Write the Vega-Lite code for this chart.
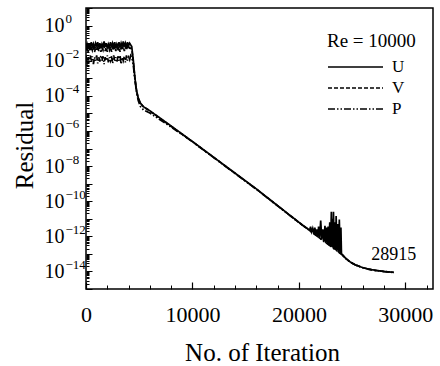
{
  "$schema": "https://vega.github.io/schema/vega-lite/v6.json",
  "width": 347,
  "height": 281,
  "autosize": {"type": "none"},
  "padding": {"left": 86, "top": 8, "right": 7, "bottom": 77},
  "background": "white",
  "config": {
    "view": {"stroke": "black", "strokeWidth": 1.5},
    "font": "Liberation Serif",
    "axis": {"labelFont": "Liberation Serif", "titleFont": "Liberation Serif", "tickColor": "black", "labelColor": "black", "titleColor": "black", "domain": false, "grid": false, "zindex": 1}
  },
  "resolve": {"axis": {"x": "independent", "y": "independent"}},
  "layer": [
    {
      "data": {
        "values": [
          {"series":"U","iter":0,"residual":0.0562},{"series":"U","iter":100,"residual":0.0891},{"series":"U","iter":200,"residual":0.0501},{"series":"U","iter":300,"residual":0.1},{"series":"U","iter":400,"residual":0.0631},{"series":"U","iter":500,"residual":0.112},{"series":"U","iter":600,"residual":0.0562},{"series":"U","iter":700,"residual":0.0891},{"series":"U","iter":800,"residual":0.0501},{"series":"U","iter":900,"residual":0.1},{"series":"U","iter":1000,"residual":0.0708},{"series":"U","iter":1100,"residual":0.112},{"series":"U","iter":1200,"residual":0.0562},{"series":"U","iter":1300,"residual":0.1},{"series":"U","iter":1400,"residual":0.0501},{"series":"U","iter":1500,"residual":0.0891},{"series":"U","iter":1600,"residual":0.0631},{"series":"U","iter":1700,"residual":0.126},{"series":"U","iter":1800,"residual":0.0631},{"series":"U","iter":1900,"residual":0.1},{"series":"U","iter":2000,"residual":0.0501},{"series":"U","iter":2100,"residual":0.0891},{"series":"U","iter":2200,"residual":0.0631},{"series":"U","iter":2300,"residual":0.112},{"series":"U","iter":2400,"residual":0.0562},{"series":"U","iter":2500,"residual":0.1},{"series":"U","iter":2600,"residual":0.0631},{"series":"U","iter":2700,"residual":0.112},{"series":"U","iter":2800,"residual":0.0501},{"series":"U","iter":2900,"residual":0.0891},{"series":"U","iter":3000,"residual":0.0631},{"series":"U","iter":3100,"residual":0.112},{"series":"U","iter":3200,"residual":0.0562},{"series":"U","iter":3300,"residual":0.1},{"series":"U","iter":3400,"residual":0.0631},{"series":"U","iter":3500,"residual":0.126},{"series":"U","iter":3600,"residual":0.0631},{"series":"U","iter":3700,"residual":0.1},{"series":"U","iter":3800,"residual":0.0562},{"series":"U","iter":3900,"residual":0.112},{"series":"U","iter":4000,"residual":0.0708},{"series":"U","iter":4100,"residual":0.1},{"series":"U","iter":4200,"residual":0.0794},{"series":"U","iter":4300,"residual":0.0631},
          {"series":"U","iter":4450,"residual":1.0e-2},{"series":"U","iter":4600,"residual":1.0e-3},{"series":"U","iter":4750,"residual":2.0e-4},{"series":"U","iter":4900,"residual":7.94e-5},{"series":"U","iter":5100,"residual":3.98e-5},{"series":"U","iter":5400,"residual":2.4e-5},{"series":"U","iter":6000,"residual":1.41e-5},{"series":"U","iter":8000,"residual":1.91e-6},{"series":"U","iter":10000,"residual":2.51e-7},{"series":"U","iter":12000,"residual":3.16e-8},{"series":"U","iter":14000,"residual":3.98e-9},{"series":"U","iter":16000,"residual":5.01e-10},{"series":"U","iter":18000,"residual":5.62e-11},{"series":"U","iter":20000,"residual":6.31e-12},{"series":"U","iter":21000,"residual":2.24e-12},
          {"series":"U","iter":21100,"residual":3.55e-12},{"series":"U","iter":21200,"residual":1.82e-12},{"series":"U","iter":21300,"residual":2.82e-12},{"series":"U","iter":21400,"residual":1.48e-12},{"series":"U","iter":21500,"residual":3.16e-12},{"series":"U","iter":21600,"residual":1.2e-12},{"series":"U","iter":21700,"residual":2.51e-12},{"series":"U","iter":21800,"residual":9.77e-13},{"series":"U","iter":21850,"residual":3.55e-12},{"series":"U","iter":21950,"residual":8.32e-13},{"series":"U","iter":22050,"residual":7.94e-12},{"series":"U","iter":22150,"residual":6.76e-13},{"series":"U","iter":22250,"residual":2.51e-12},{"series":"U","iter":22350,"residual":5.5e-13},{"series":"U","iter":22450,"residual":3.98e-12},{"series":"U","iter":22520,"residual":4.68e-13},{"series":"U","iter":22600,"residual":3.16e-12},{"series":"U","iter":22680,"residual":3.89e-13},{"series":"U","iter":22750,"residual":3.55e-12},{"series":"U","iter":22820,"residual":3.39e-13},{"series":"U","iter":22900,"residual":6.31e-12},{"series":"U","iter":22980,"residual":2.88e-13},{"series":"U","iter":23050,"residual":2.51e-11},{"series":"U","iter":23100,"residual":2.51e-13},{"series":"U","iter":23150,"residual":1.0e-11},{"series":"U","iter":23200,"residual":2.29e-13},{"series":"U","iter":23250,"residual":2.51e-11},{"series":"U","iter":23320,"residual":2.04e-13},{"series":"U","iter":23400,"residual":6.31e-12},{"series":"U","iter":23450,"residual":1.78e-13},{"series":"U","iter":23500,"residual":1.41e-11},{"series":"U","iter":23580,"residual":1.55e-13},{"series":"U","iter":23650,"residual":5.01e-12},{"series":"U","iter":23720,"residual":1.35e-13},{"series":"U","iter":23800,"residual":8.91e-12},{"series":"U","iter":23880,"residual":1.12e-13},{"series":"U","iter":23950,"residual":3.16e-12},{"series":"U","iter":24000,"residual":1.0e-13},
          {"series":"U","iter":24100,"residual":8.7e-14},{"series":"U","iter":24400,"residual":5.62e-14},{"series":"U","iter":24800,"residual":3.55e-14},{"series":"U","iter":25300,"residual":2.4e-14},{"series":"U","iter":25900,"residual":1.74e-14},{"series":"U","iter":26500,"residual":1.38e-14},{"series":"U","iter":27200,"residual":1.15e-14},{"series":"U","iter":28000,"residual":1.0e-14},{"series":"U","iter":28915,"residual":8.9e-15},

          {"series":"V","iter":0,"residual":0.0398},{"series":"V","iter":100,"residual":0.0631},{"series":"V","iter":200,"residual":0.0316},{"series":"V","iter":300,"residual":0.0562},{"series":"V","iter":400,"residual":0.0355},{"series":"V","iter":500,"residual":0.0708},{"series":"V","iter":600,"residual":0.0398},{"series":"V","iter":700,"residual":0.0631},{"series":"V","iter":800,"residual":0.0316},{"series":"V","iter":900,"residual":0.0501},{"series":"V","iter":1000,"residual":0.0398},{"series":"V","iter":1100,"residual":0.0708},{"series":"V","iter":1200,"residual":0.0355},{"series":"V","iter":1300,"residual":0.0631},{"series":"V","iter":1400,"residual":0.0316},{"series":"V","iter":1500,"residual":0.0562},{"series":"V","iter":1600,"residual":0.0398},{"series":"V","iter":1700,"residual":0.0708},{"series":"V","iter":1800,"residual":0.0355},{"series":"V","iter":1900,"residual":0.0562},{"series":"V","iter":2000,"residual":0.0316},{"series":"V","iter":2100,"residual":0.0631},{"series":"V","iter":2200,"residual":0.0398},{"series":"V","iter":2300,"residual":0.0631},{"series":"V","iter":2400,"residual":0.0316},{"series":"V","iter":2500,"residual":0.0562},{"series":"V","iter":2600,"residual":0.0398},{"series":"V","iter":2700,"residual":0.0708},{"series":"V","iter":2800,"residual":0.0355},{"series":"V","iter":2900,"residual":0.0631},{"series":"V","iter":3000,"residual":0.0355},{"series":"V","iter":3100,"residual":0.0631},{"series":"V","iter":3200,"residual":0.0316},{"series":"V","iter":3300,"residual":0.0562},{"series":"V","iter":3400,"residual":0.0398},{"series":"V","iter":3500,"residual":0.0708},{"series":"V","iter":3600,"residual":0.0355},{"series":"V","iter":3700,"residual":0.0631},{"series":"V","iter":3800,"residual":0.0398},{"series":"V","iter":3900,"residual":0.0631},{"series":"V","iter":4000,"residual":0.0447},{"series":"V","iter":4100,"residual":0.0562},{"series":"V","iter":4200,"residual":0.0501},{"series":"V","iter":4300,"residual":0.0447},
          {"series":"V","iter":4450,"residual":7.94e-3},{"series":"V","iter":4600,"residual":8.91e-4},{"series":"V","iter":4750,"residual":1.91e-4},{"series":"V","iter":4900,"residual":7.59e-5},{"series":"V","iter":5100,"residual":3.8e-5},{"series":"V","iter":5400,"residual":2.34e-5},{"series":"V","iter":6000,"residual":1.35e-5},{"series":"V","iter":8000,"residual":1.82e-6},{"series":"V","iter":10000,"residual":2.45e-7},{"series":"V","iter":12000,"residual":3.09e-8},{"series":"V","iter":14000,"residual":3.89e-9},{"series":"V","iter":16000,"residual":4.9e-10},{"series":"V","iter":18000,"residual":5.5e-11},{"series":"V","iter":20000,"residual":6.17e-12},{"series":"V","iter":21000,"residual":2.19e-12},{"series":"V","iter":22300,"residual":5.5e-13},{"series":"V","iter":22400,"residual":2.0e-12},{"series":"V","iter":22500,"residual":4.79e-13},{"series":"V","iter":23300,"residual":2.09e-13},{"series":"V","iter":23350,"residual":5.01e-12},{"series":"V","iter":23450,"residual":1.74e-13},{"series":"V","iter":24000,"residual":9.77e-14},{"series":"V","iter":24100,"residual":8.5e-14},{"series":"V","iter":24400,"residual":5.5e-14},{"series":"V","iter":24800,"residual":3.5e-14},{"series":"V","iter":25300,"residual":2.38e-14},{"series":"V","iter":25900,"residual":1.72e-14},{"series":"V","iter":26500,"residual":1.36e-14},{"series":"V","iter":27200,"residual":1.14e-14},{"series":"V","iter":28000,"residual":9.9e-15},{"series":"V","iter":28915,"residual":8.8e-15},

          {"series":"P","iter":0,"residual":0.02},{"series":"P","iter":100,"residual":0.005},{"series":"P","iter":200,"residual":0.0158},{"series":"P","iter":300,"residual":0.00794},{"series":"P","iter":400,"residual":0.02},{"series":"P","iter":500,"residual":0.01},{"series":"P","iter":600,"residual":0.0178},{"series":"P","iter":700,"residual":0.0063},{"series":"P","iter":800,"residual":0.0158},{"series":"P","iter":900,"residual":0.01},{"series":"P","iter":1000,"residual":0.02},{"series":"P","iter":1100,"residual":0.00708},{"series":"P","iter":1200,"residual":0.0158},{"series":"P","iter":1300,"residual":0.00891},{"series":"P","iter":1400,"residual":0.02},{"series":"P","iter":1500,"residual":0.01},{"series":"P","iter":1600,"residual":0.0178},{"series":"P","iter":1700,"residual":0.0063},{"series":"P","iter":1800,"residual":0.0158},{"series":"P","iter":1900,"residual":0.01},{"series":"P","iter":2000,"residual":0.02},{"series":"P","iter":2100,"residual":0.00794},{"series":"P","iter":2200,"residual":0.0158},{"series":"P","iter":2300,"residual":0.01},{"series":"P","iter":2400,"residual":0.0178},{"series":"P","iter":2500,"residual":0.00708},{"series":"P","iter":2600,"residual":0.02},{"series":"P","iter":2700,"residual":0.01},{"series":"P","iter":2800,"residual":0.0158},{"series":"P","iter":2900,"residual":0.00794},{"series":"P","iter":3000,"residual":0.0178},{"series":"P","iter":3100,"residual":0.01},{"series":"P","iter":3200,"residual":0.02},{"series":"P","iter":3300,"residual":0.0063},{"series":"P","iter":3400,"residual":0.0158},{"series":"P","iter":3500,"residual":0.01},{"series":"P","iter":3600,"residual":0.0178},{"series":"P","iter":3700,"residual":0.00794},{"series":"P","iter":3800,"residual":0.02},{"series":"P","iter":3900,"residual":0.01},{"series":"P","iter":4000,"residual":0.0158},{"series":"P","iter":4100,"residual":0.0112},{"series":"P","iter":4200,"residual":0.02},{"series":"P","iter":4300,"residual":0.0158},
          {"series":"P","iter":4450,"residual":5.0e-3},{"series":"P","iter":4600,"residual":7.9e-4},{"series":"P","iter":4750,"residual":1.58e-4},{"series":"P","iter":4900,"residual":5.62e-5},{"series":"P","iter":5100,"residual":2.51e-5},{"series":"P","iter":5400,"residual":1.58e-5},{"series":"P","iter":6000,"residual":1.05e-5},{"series":"P","iter":8000,"residual":1.66e-6},{"series":"P","iter":10000,"residual":2.4e-7},{"series":"P","iter":12000,"residual":3.02e-8},{"series":"P","iter":14000,"residual":3.8e-9},{"series":"P","iter":16000,"residual":4.79e-10},{"series":"P","iter":18000,"residual":5.37e-11},{"series":"P","iter":20000,"residual":6.03e-12},{"series":"P","iter":21000,"residual":2.14e-12},{"series":"P","iter":24000,"residual":9.55e-14},{"series":"P","iter":24100,"residual":8.4e-14},{"series":"P","iter":24400,"residual":5.4e-14},{"series":"P","iter":24800,"residual":3.45e-14},{"series":"P","iter":25300,"residual":2.35e-14},{"series":"P","iter":25900,"residual":1.7e-14},{"series":"P","iter":26500,"residual":1.35e-14},{"series":"P","iter":27200,"residual":1.13e-14},{"series":"P","iter":28000,"residual":9.8e-15},{"series":"P","iter":28915,"residual":8.7e-15}
        ]
      },
      "mark": {"type": "line", "color": "black", "strokeWidth": 1.7, "clip": true},
      "encoding": {
        "x": {
          "field": "iter", "type": "quantitative",
          "scale": {"domain": [0, 32600], "nice": false, "zero": false},
          "axis": {
            "orient": "bottom",
            "values": [0, 10000, 20000, 30000],
            "format": "d",
            "offset": -7, "tickSize": 7, "tickWidth": 1.2,
            "labelFontSize": 22, "labelPadding": 15, "labelFlush": false, "labelOverlap": false,
            "title": "No. of Iteration", "titleFontSize": 25, "titleFontWeight": "normal",
            "titleX": 176, "titleY": 70, "titleBaseline": "middle", "titleAlign": "center"
          }
        },
        "y": {
          "field": "residual", "type": "quantitative",
          "scale": {"type": "log", "domain": [1e-15, 10], "nice": false},
          "axis": {
            "orient": "left",
            "values": [1e-15,1e-14,1e-13,1e-12,1e-11,1e-10,1e-9,1e-8,1e-7,1e-6,1e-5,1e-4,0.001,0.01,0.1,1,10],
            "labelExpr": "round(log(datum.value)/LN10) % 2 == 0 ? '10' : ''",
            "offset": -6, "tickSize": 6, "tickWidth": 1,
            "labelFontSize": 20, "labelPadding": 42, "labelAlign": "left", "labelBaseline": "middle",
            "labelFlush": false, "labelOverlap": false,
            "title": "Residual", "titleFontSize": 25, "titleFontWeight": "normal",
            "titleX": -68, "titleY": 137, "titleAngle": -90, "titleBaseline": "middle", "titleAlign": "center"
          }
        },
        "strokeDash": {
          "field": "series", "type": "nominal",
          "scale": {"domain": ["U", "V", "P"], "range": [[1, 0], [4, 2], [7, 2, 1.5, 2, 1.5, 2]]},
          "legend": {
            "orient": "none", "legendX": 241, "legendY": 24, "padding": 0,
            "title": "Re = 10000", "titleFont": "Liberation Serif", "titleFontSize": 19,
            "titleFontWeight": "normal", "titleColor": "black", "titlePadding": 8,
            "labelFont": "Liberation Serif", "labelFontSize": 17, "labelColor": "black",
            "labelOffset": 8, "symbolType": "stroke", "symbolSize": 3025,
            "symbolStrokeWidth": 1.5, "symbolStrokeColor": "black",
            "clipHeight": 16, "rowPadding": 4
          }
        }
      }
    },
    {
      "data": {"values": [{"iter": 28915, "residual": 8.9e-15, "label": "28915"}]},
      "mark": {"type": "text", "font": "Liberation Serif", "fontSize": 18, "color": "black", "align": "center", "baseline": "middle", "dy": -17},
      "encoding": {
        "x": {
          "field": "iter", "type": "quantitative",
          "axis": {
            "orient": "bottom",
            "values": [2000,4000,6000,8000,12000,14000,16000,18000,22000,24000,26000,28000,32000],
            "offset": -4, "tickSize": 4, "tickWidth": 1,
            "labels": false, "title": null
          }
        },
        "y": {
          "field": "residual", "type": "quantitative",
          "axis": {
            "orient": "left",
            "values": [2e-15,3e-15,4e-15,5e-15,6e-15,7e-15,8e-15,9e-15,2e-14,3e-14,4e-14,5e-14,6e-14,7e-14,8e-14,9e-14,2e-13,3e-13,4e-13,5e-13,6e-13,7e-13,8e-13,9e-13,2e-12,3e-12,4e-12,5e-12,6e-12,7e-12,8e-12,9e-12,2e-11,3e-11,4e-11,5e-11,6e-11,7e-11,8e-11,9e-11,2e-10,3e-10,4e-10,5e-10,6e-10,7e-10,8e-10,9e-10,2e-9,3e-9,4e-9,5e-9,6e-9,7e-9,8e-9,9e-9,2e-8,3e-8,4e-8,5e-8,6e-8,7e-8,8e-8,9e-8,2e-7,3e-7,4e-7,5e-7,6e-7,7e-7,8e-7,9e-7,2e-6,3e-6,4e-6,5e-6,6e-6,7e-6,8e-6,9e-6,2e-5,3e-5,4e-5,5e-5,6e-5,7e-5,8e-5,9e-5,2e-4,3e-4,4e-4,5e-4,6e-4,7e-4,8e-4,9e-4,0.002,0.003,0.004,0.005,0.006,0.007,0.008,0.009,0.02,0.03,0.04,0.05,0.06,0.07,0.08,0.09,0.2,0.3,0.4,0.5,0.6,0.7,0.8,0.9,2,3,4,5,6,7,8,9],
            "offset": -3, "tickSize": 3, "tickWidth": 1,
            "labels": false, "title": null
          }
        },
        "text": {"field": "label"}
      }
    },
    {
      "data": {"values": [{"iter": 28915, "residual": 8.9e-15}]},
      "mark": {"type": "text", "opacity": 0},
      "encoding": {
        "x": {"field": "iter", "type": "quantitative", "axis": null},
        "y": {
          "field": "residual", "type": "quantitative",
          "axis": {
            "orient": "left",
            "values": [1e-14,1e-12,1e-10,1e-8,1e-6,1e-4,0.01,1],
            "labelExpr": "format(round(log(datum.value)/LN10), 'd')",
            "ticks": false,
            "labelFontSize": 13, "labelPadding": 21, "labelAlign": "left", "labelBaseline": "middle",
            "labelOffset": -7, "labelFlush": false, "labelOverlap": false,
            "title": null
          }
        },
        "text": {"value": ""}
      }
    }
  ]
}
